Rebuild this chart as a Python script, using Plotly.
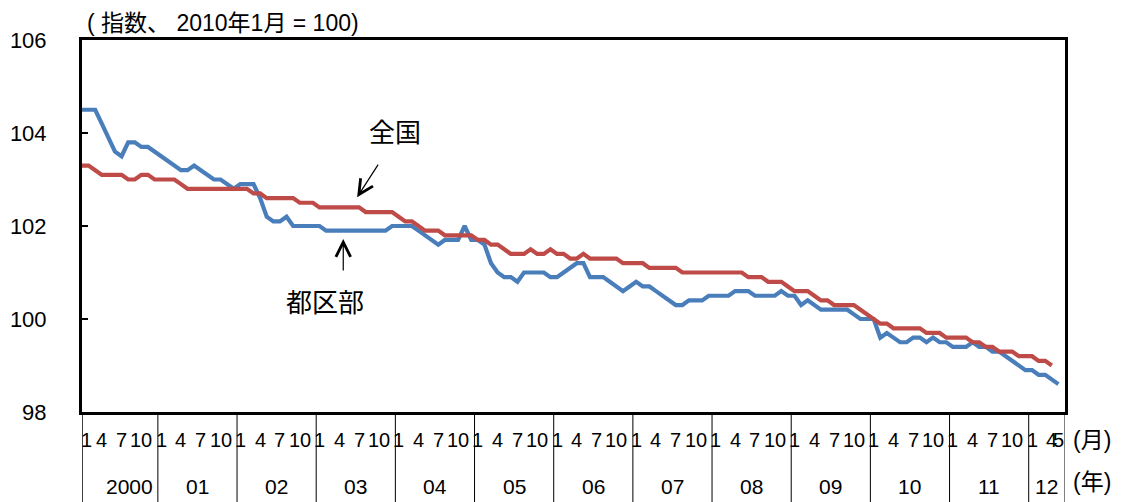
import plotly.graph_objects as go

# ---- data ----
years = ["2000", "01", "02", "03", "04", "05", "06", "07", "08", "09", "10", "11", "12"]
month_tick_labels = ["1", "4", "7", "10"]
last_year_month_labels = ["1", "4", "5"]
last_year_month_numbers = [1, 4, 5]

# 都区部 (Tokyo wards), Jan 2000 - May 2012
tokyo = [
    104.5, 104.5, 104.5, 104.2, 103.9, 103.6, 103.5, 103.8, 103.8, 103.7, 103.7, 103.6,  # 2000
    103.5, 103.4, 103.3, 103.2, 103.2, 103.3, 103.2, 103.1, 103.0, 103.0, 102.9, 102.8,  # 2001
    102.9, 102.9, 102.9, 102.6, 102.2, 102.1, 102.1, 102.2, 102.0, 102.0, 102.0, 102.0,  # 2002
    102.0, 101.9, 101.9, 101.9, 101.9, 101.9, 101.9, 101.9, 101.9, 101.9, 101.9, 102.0,  # 2003
    102.0, 102.0, 102.0, 101.9, 101.8, 101.7, 101.6, 101.7, 101.7, 101.7, 102.0, 101.7,  # 2004
    101.7, 101.6, 101.2, 101.0, 100.9, 100.9, 100.8, 101.0, 101.0, 101.0, 101.0, 100.9,  # 2005
    100.9, 101.0, 101.1, 101.2, 101.2, 100.9, 100.9, 100.9, 100.8, 100.7, 100.6, 100.7,  # 2006
    100.8, 100.7, 100.7, 100.6, 100.5, 100.4, 100.3, 100.3, 100.4, 100.4, 100.4, 100.5,  # 2007
    100.5, 100.5, 100.5, 100.6, 100.6, 100.6, 100.5, 100.5, 100.5, 100.5, 100.6, 100.5,  # 2008
    100.5, 100.3, 100.4, 100.3, 100.2, 100.2, 100.2, 100.2, 100.2, 100.1, 100.0, 100.0,  # 2009
    100.0, 99.6, 99.7, 99.6, 99.5, 99.5, 99.6, 99.6, 99.5, 99.6, 99.5, 99.5,  # 2010
    99.4, 99.4, 99.4, 99.5, 99.4, 99.4, 99.3, 99.3, 99.2, 99.1, 99.0, 98.9,  # 2011
    98.9, 98.8, 98.8, 98.7, 98.6,  # 2012
]

# 全国 (nationwide), Jan 2000 - Apr 2012
national = [
    103.3, 103.3, 103.2, 103.1, 103.1, 103.1, 103.1, 103.0, 103.0, 103.1, 103.1, 103.0,  # 2000
    103.0, 103.0, 103.0, 102.9, 102.8, 102.8, 102.8, 102.8, 102.8, 102.8, 102.8, 102.8,  # 2001
    102.8, 102.8, 102.7, 102.7, 102.6, 102.6, 102.6, 102.6, 102.6, 102.5, 102.5, 102.5,  # 2002
    102.4, 102.4, 102.4, 102.4, 102.4, 102.4, 102.4, 102.3, 102.3, 102.3, 102.3, 102.3,  # 2003
    102.2, 102.1, 102.1, 102.0, 101.9, 101.9, 101.9, 101.8, 101.8, 101.8, 101.8, 101.8,  # 2004
    101.7, 101.7, 101.6, 101.6, 101.5, 101.4, 101.4, 101.4, 101.5, 101.4, 101.4, 101.5,  # 2005
    101.4, 101.4, 101.3, 101.3, 101.4, 101.3, 101.3, 101.3, 101.3, 101.3, 101.2, 101.2,  # 2006
    101.2, 101.2, 101.1, 101.1, 101.1, 101.1, 101.1, 101.0, 101.0, 101.0, 101.0, 101.0,  # 2007
    101.0, 101.0, 101.0, 101.0, 101.0, 100.9, 100.9, 100.9, 100.8, 100.8, 100.8, 100.7,  # 2008
    100.6, 100.6, 100.6, 100.5, 100.4, 100.4, 100.3, 100.3, 100.3, 100.3, 100.2, 100.1,  # 2009
    100.0, 99.9, 99.9, 99.8, 99.8, 99.8, 99.8, 99.8, 99.7, 99.7, 99.7, 99.6,  # 2010
    99.6, 99.6, 99.6, 99.5, 99.5, 99.4, 99.4, 99.3, 99.3, 99.3, 99.2, 99.2,  # 2011
    99.2, 99.1, 99.1, 99.0,  # 2012
]

y_ticks = [98, 100, 102, 104, 106]

# ---- figure ----
FONT = "Liberation Sans, Arial, Noto Sans CJK JP, sans-serif"
BLUE = "#4A7EBB"
RED = "#BE4B48"

n_months = len(tokyo)
x_tokyo = list(range(len(tokyo)))
x_nat = list(range(len(national)))
x_max = n_months  # axis extends to one category beyond the last month

fig = go.Figure()
fig.add_trace(go.Scatter(x=x_tokyo, y=tokyo, mode="lines",
                         line=dict(color=BLUE, width=4.2), name="都区部"))
fig.add_trace(go.Scatter(x=x_nat, y=national, mode="lines",
                         line=dict(color=RED, width=4.2), name="全国"))

annotations = []
shapes = []

plot_h = 372.0
month_row_y = -28 / plot_h
year_row_y = -74 / plot_h
bottom_y = -(494 - 404) / plot_h

# month labels and year labels
for k, yr in enumerate(years):
    start = 12 * k
    if yr == years[-1]:
        for lab, m in zip(last_year_month_labels, last_year_month_numbers):
            annotations.append(dict(x=start + m - 1, y=month_row_y, xref="x", yref="paper",
                                    text=lab, showarrow=False, xanchor="center", yanchor="middle",
                                    font=dict(size=20, family=FONT, color="black")))
        end = x_max
    else:
        for j, lab in enumerate(month_tick_labels):
            annotations.append(dict(x=start + 3 * j, y=month_row_y, xref="x", yref="paper",
                                    text=lab, showarrow=False, xanchor="center", yanchor="middle",
                                    xshift=4 if (k == 0 and j == 0) else 0,
                                    font=dict(size=20, family=FONT, color="black")))
        end = start + 11.5
    left = 0 if k == 0 else start - 0.5
    cx = (left + end) / 2 + (1.5 if k == 0 else 0)
    annotations.append(dict(x=cx, y=year_row_y, xref="x", yref="paper", text=yr,
                            showarrow=False, xanchor="center", yanchor="middle",
                            font=dict(size=21, family=FONT, color="black")))
    # separator line at the right end of each year block
    shapes.append(dict(type="line", xref="x", yref="paper", x0=end, x1=end,
                       y0=0, y1=bottom_y, line=dict(color="black", width=1)))
# left separator
shapes.append(dict(type="line", xref="x", yref="paper", x0=0, x1=0,
                   y0=0, y1=bottom_y, line=dict(color="black", width=1.5)))

# unit labels
annotations.append(dict(x=1.0275, y=month_row_y, xref="paper", yref="paper", text="(月)",
                        showarrow=False, xanchor="center", yanchor="middle",
                        font=dict(size=23, family=FONT, color="black")))
annotations.append(dict(x=1.0275, y=-70 / plot_h, xref="paper", yref="paper", text="(年)",
                        showarrow=False, xanchor="center", yanchor="middle",
                        font=dict(size=23, family=FONT, color="black")))

# title
annotations.append(dict(x=0.003, y=1 + 17 / plot_h, xref="paper", yref="paper",
                        text="( 指数、 2010年1月 = 100)", showarrow=False,
                        xanchor="left", yanchor="middle",
                        font=dict(size=23, family=FONT, color="black")))

# series labels with arrows
annotations.append(dict(x=47.4, y=104.0, xref="x", yref="y", text="全国", showarrow=False,
                        xanchor="center", yanchor="middle",
                        font=dict(size=26, family=FONT, color="black")))
annotations.append(dict(x=41.7, y=102.62, xref="x", yref="y", text="", showarrow=True,
                        ax=22, ay=-34, arrowhead=5, arrowsize=2.4, arrowwidth=1.2,
                        arrowcolor="black"))
annotations.append(dict(x=36.8, y=100.34, xref="x", yref="y", text="都区部", showarrow=False,
                        xanchor="center", yanchor="middle",
                        font=dict(size=26, family=FONT, color="black")))
annotations.append(dict(x=39.6, y=101.72, xref="x", yref="y", text="", showarrow=True,
                        ax=0, ay=33, arrowhead=5, arrowsize=2.4, arrowwidth=1.2,
                        arrowcolor="black"))

fig.update_layout(
    width=1115, height=494,
    margin=dict(l=74, r=58, t=32, b=90, autoexpand=False),
    paper_bgcolor="white", plot_bgcolor="white",
    showlegend=False,
    font=dict(family=FONT, size=20, color="black"),
    xaxis=dict(range=[0, x_max], showgrid=False, zeroline=False, showticklabels=False,
               ticks="", showline=True, mirror=True, linecolor="black", linewidth=3,
               fixedrange=True, automargin=False),
    yaxis=dict(range=[98, 106], tickvals=y_ticks, ticktext=[str(v) for v in y_ticks],
               showgrid=False, zeroline=False, ticks="inside", ticklen=6, tickwidth=2,
               tickcolor="black", showline=True, mirror=True, linecolor="black", linewidth=3,
               ticklabelstandoff=28, tickfont=dict(size=22, family=FONT, color="black"),
               fixedrange=True, automargin=False),
    annotations=annotations,
    shapes=shapes,
)

fig.write_html("out.html")
